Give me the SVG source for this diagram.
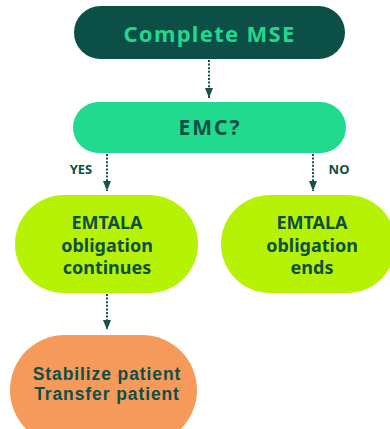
<svg xmlns="http://www.w3.org/2000/svg" width="390" height="429" viewBox="0 0 390 429">
<defs>
<style>
text{font-family:"Noto Sans","Open Sans",sans-serif;font-weight:700;text-anchor:middle;}
.lbl{fill:#0f4f45;font-size:18px;}
.edge{fill:none;stroke:#17524a;stroke-width:2;stroke-dasharray:2 1.6;}
.small{fill:#0f4f45;font-size:13px;}
.tight{font-family:"Liberation Sans",Arial,sans-serif;font-size:17.5px;letter-spacing:0.9px;}
</style>
<marker id="ah" viewBox="0 0 10 8" refX="10" refY="4" markerWidth="5" markerHeight="4" orient="auto" markerUnits="strokeWidth">
<path d="M0,0 L10,4 L0,8 z" fill="#17524a"/>
</marker>
</defs>
<rect width="390" height="429" fill="#ffffff"/>
<g id="connectors">
<line class="edge" x1="209" y1="60" x2="209" y2="98" marker-end="url(#ah)"/>
<line class="edge" x1="107" y1="154" x2="107" y2="191" marker-end="url(#ah)"/>
<line class="edge" x1="313" y1="154" x2="313" y2="191" marker-end="url(#ah)"/>
<line class="edge" x1="107" y1="294" x2="107" y2="330" marker-end="url(#ah)"/>
<text class="small" x="81" y="174">YES</text>
<text class="small" x="339" y="174">NO</text>
</g>
<g id="complete-mse">
<rect x="74" y="6" width="271" height="53" rx="26.5" fill="#0c4f47"/>
<text x="209.5" y="42" style="font-size:22px;letter-spacing:1.3px" fill="#22d88c">Complete MSE</text>
</g>
<g id="emc">
<rect x="73" y="102" width="273" height="51" rx="25.5" fill="#22da8e"/>
<text class="lbl" x="210" y="135" style="font-size:21px;letter-spacing:2px">EMC?</text>
</g>
<g id="continues">
<rect x="15" y="195" width="183" height="98" rx="49" fill="#b6f205"/>
<text class="lbl" x="107" y="229">EMTALA</text>
<text class="lbl" x="107" y="252">obligation</text>
<text class="lbl" x="107" y="274">continues</text>
</g>
<g id="ends">
<rect x="221" y="195" width="175" height="98" rx="49" fill="#b6f205"/>
<text class="lbl" x="312" y="229">EMTALA</text>
<text class="lbl" x="312" y="252">obligation</text>
<text class="lbl" x="312" y="274">ends</text>
</g>
<g id="stabilize">
<rect x="10" y="335" width="187" height="110" rx="55" fill="#f59a5b"/>
<text class="lbl tight" x="107" y="380">Stabilize patient</text>
<text class="lbl tight" x="107" y="400">Transfer patient</text>
</g>
</svg>
